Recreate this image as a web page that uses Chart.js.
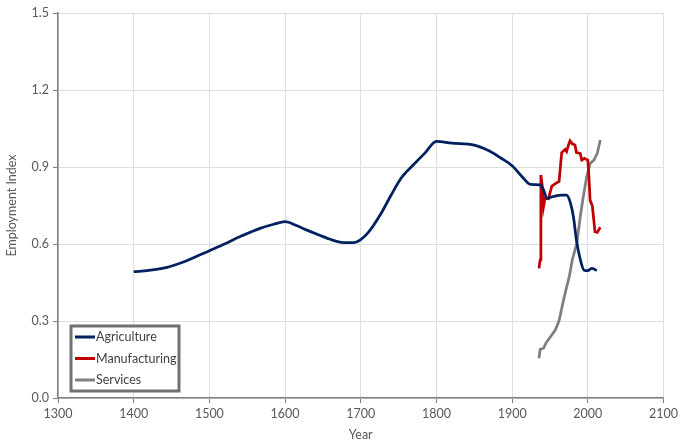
<!DOCTYPE html>
<html>
<head>
    <meta charset="UTF-8">
    <title>Employment Index</title>
    <script src="https://cdn.jsdelivr.net/npm/chart.js@4.4.0/dist/chart.umd.min.js"></script>
    <style>
        html, body { margin: 0; padding: 0; background: #fff; }
        #wrap { width: 681px; height: 446px; }
    </style>
</head>
<body>
    <div id="wrap"><canvas id="empChart" width="681" height="446"></canvas></div>

    <script>
        // Agriculture (smooth curve)
        const agriYears = [1400, 1420, 1444, 1470, 1500, 1520, 1540, 1567, 1585, 1600, 1615, 1629, 1645, 1656, 1668, 1678, 1690, 1700, 1710, 1727, 1740, 1753, 1760, 1770, 1785, 1800, 1820, 1850, 1870, 1885, 1900, 1915, 1924, 1937, 1941, 1946, 1953, 1966, 1972, 1977, 1981, 1985, 1990, 1995, 2000, 2005, 2012];
        const agriValues = [0.492, 0.497, 0.509, 0.535, 0.574, 0.600, 0.628, 0.661, 0.677, 0.687, 0.672, 0.654, 0.635, 0.622, 0.610, 0.605, 0.605, 0.617, 0.645, 0.720, 0.790, 0.855, 0.880, 0.910, 0.955, 1.000, 0.993, 0.985, 0.962, 0.935, 0.905, 0.856, 0.832, 0.830, 0.815, 0.778, 0.784, 0.790, 0.790, 0.760, 0.706, 0.615, 0.540, 0.498, 0.496, 0.505, 0.497];

        // Manufacturing (jagged)
        const manuYears = [1935.5, 1937, 1938, 1940, 1941.5, 1943.5, 1948, 1952.5, 1959, 1962, 1965.5, 1970, 1972, 1974.5, 1976.5, 1979.5, 1983, 1985, 1990, 1992, 1995.5, 2000, 2001.5, 2003, 2006, 2009.5, 2012.5, 2016.5];
        const manuValues = [0.505, 0.538, 0.869, 0.823, 0.745, 0.778, 0.776, 0.826, 0.839, 0.843, 0.956, 0.969, 0.960, 0.986, 1.002, 0.990, 0.986, 0.956, 0.953, 0.927, 0.934, 0.927, 0.862, 0.771, 0.748, 0.648, 0.645, 0.665];

        // Services
        const servYears = [1935.5, 1937, 1941.5, 1944.5, 1950, 1957, 1962, 1966, 1970, 1975.5, 1979.5, 1985.5, 1990, 1994, 1998.5, 2003, 2008, 2012.5, 2016.5];
        const servValues = [0.155, 0.190, 0.194, 0.213, 0.236, 0.265, 0.301, 0.356, 0.408, 0.473, 0.538, 0.603, 0.706, 0.784, 0.862, 0.914, 0.927, 0.953, 1.005];

        const xTicks = [1300, 1400, 1500, 1600, 1700, 1800, 1900, 2000, 2100];
        const yTicks = [0.0, 0.3, 0.6, 0.9, 1.2, 1.5];

        const toPoints = (xs, ys) => xs.map((x, i) => ({ x: x, y: ys[i] }));

        const font = { family: 'Lato, "Open Sans", sans-serif', size: 12.5 };
        const textColor = '#595959';

        // legend drawn as a framed box inside the plot, bottom-left
        const boxLegend = {
            id: 'boxLegend',
            afterDraw(chart) {
                const ctx = chart.ctx;
                const x0 = 71, y0 = 326, w = 108, h = 65;
                ctx.save();
                ctx.fillStyle = '#ffffff';
                ctx.fillRect(x0, y0, w, h);
                ctx.strokeStyle = '#707070';
                ctx.lineWidth = 3;
                ctx.strokeRect(x0, y0, w, h);
                ctx.font = '12.5px ' + font.family;
                ctx.textBaseline = 'middle';
                chart.data.datasets.forEach((ds, i) => {
                    const ly = y0 + 11 + i * 21.5;
                    ctx.strokeStyle = ds.borderColor;
                    ctx.lineWidth = 3;
                    ctx.beginPath();
                    ctx.moveTo(x0 + 4, ly);
                    ctx.lineTo(x0 + 24, ly);
                    ctx.stroke();
                    ctx.fillStyle = '#404040';
                    ctx.fillText(ds.label, x0 + 25, ly);
                });
                ctx.restore();
            }
        };

        const ctx = document.getElementById('empChart').getContext('2d');
        new Chart(ctx, {
            type: 'line',
            data: {
                datasets: [{
                    label: 'Agriculture',
                    data: toPoints(agriYears, agriValues),
                    borderColor: '#002060',
                    borderWidth: 2.75,
                    pointRadius: 0,
                    cubicInterpolationMode: 'monotone',
                    fill: false,
                }, {
                    label: 'Manufacturing',
                    data: toPoints(manuYears, manuValues),
                    borderColor: '#C00000',
                    borderWidth: 2.75,
                    pointRadius: 0,
                    tension: 0,
                    fill: false,
                }, {
                    label: 'Services',
                    data: toPoints(servYears, servValues),
                    borderColor: '#7F7F7F',
                    borderWidth: 2.75,
                    pointRadius: 0,
                    tension: 0,
                    fill: false,
                }]
            },
            options: {
                responsive: false,
                animation: false,
                layout: { padding: { top: 13, right: 16, left: 0, bottom: 0 } },
                plugins: {
                    legend: { display: false },
                    tooltip: { enabled: false }
                },
                scales: {
                    x: {
                        type: 'linear',
                        min: 1300,
                        max: 2100,
                        afterBuildTicks: axis => { axis.ticks = xTicks.map(v => ({ value: v })); },
                        afterFit: axis => { axis.height = 48; },
                        grid: { color: '#DEDEDE', tickColor: '#7F7F7F', tickLength: 5 },
                        border: { color: '#7F7F7F', width: 1.5 },
                        ticks: { font: font, color: textColor, maxRotation: 0, padding: 3, callback: v => String(v) },
                        title: { display: true, text: 'Year', font: font, color: textColor, padding: { top: 2 } }
                    },
                    y: {
                        min: 0,
                        max: 1.5,
                        afterBuildTicks: axis => { axis.ticks = yTicks.map(v => ({ value: v })); },
                        afterFit: axis => { axis.width = 58; },
                        grid: { color: '#DEDEDE', tickColor: '#7F7F7F', tickLength: 5 },
                        border: { color: '#7F7F7F', width: 1.5 },
                        ticks: { font: font, color: textColor, padding: 4, callback: v => v.toFixed(1) },
                        title: { display: true, text: 'Employment Index', font: font, color: textColor, padding: { bottom: 2 } }
                    }
                }
            },
            plugins: [boxLegend]
        });
    </script>
</body>
</html>
